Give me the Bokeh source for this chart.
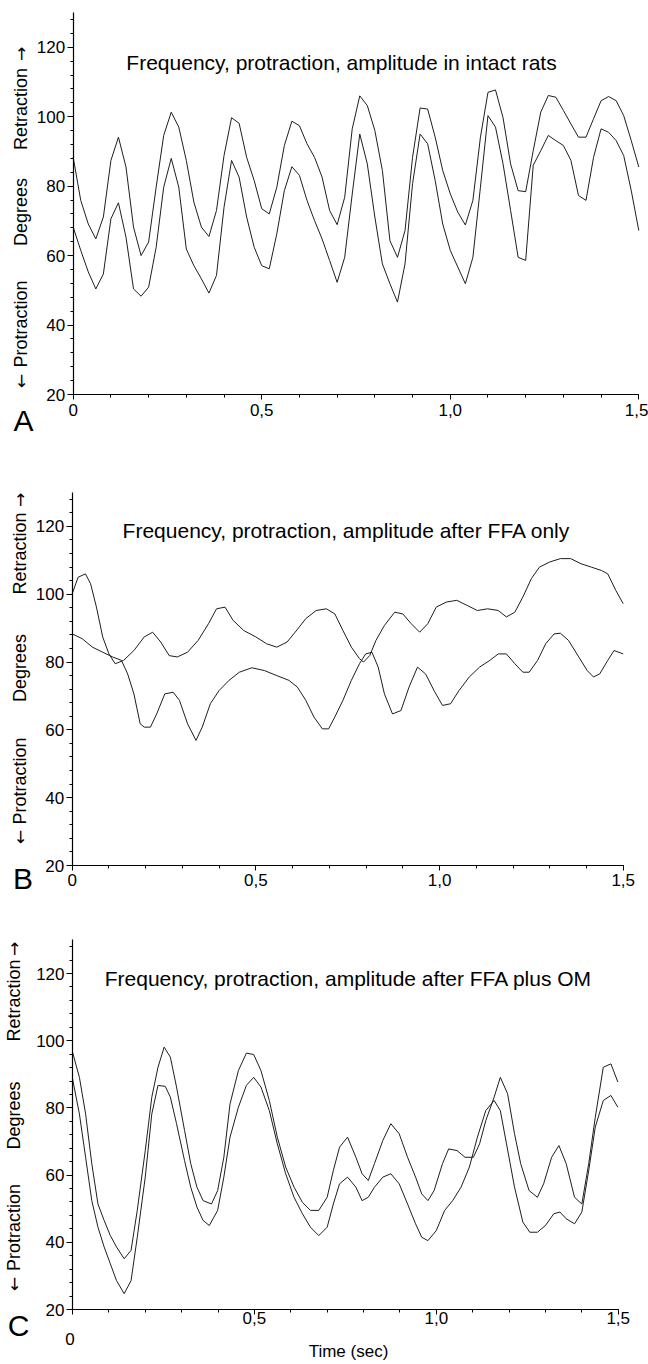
import numpy as np
from bokeh.plotting import figure
from bokeh.models import (FixedTicker, CustomJSTickFormatter, Label, Range1d,
                          LinearAxis)
from bokeh.layouts import column
from bokeh.embed import file_html
from bokeh.resources import INLINE

FONT = "Liberation Sans"
ARROW_FONT = "DejaVu Sans"

# ---------------- data ----------------
tA = [round(0.02 * i, 2) for i in range(76)]
A_upper = [88.3, 75.9, 69.1, 64.8, 71.1, 87.4, 94.1, 85.5, 68.2, 60.0,
           63.9, 79.7, 94.6, 101.3, 97.0, 87.4, 75.4, 68.2, 65.5, 73.0,
           88.8, 99.7, 98.1, 88.3, 81.6, 73.5, 72.0, 79.7, 91.7, 98.7,
           97.4, 92.2, 88.3, 82.6, 73.0, 68.9, 76.8, 96.5, 106.0, 103.2,
           96.0, 84.5, 64.3, 59.5, 67.2, 88.3, 102.5, 102.2, 94.1, 84.5,
           77.8, 72.5, 68.8, 75.9, 94.1, 107.0, 107.7, 99.7, 86.4, 78.7,
           78.4, 90.2, 101.3, 106.1, 105.6, 101.8, 97.9, 94.1, 94.1, 99.4,
           104.6, 105.8, 104.6, 100.3, 93.1, 85.5]
A_lower = [68.2, 61.5, 55.3, 50.4, 54.7, 70.6, 75.2, 65.3, 50.4, 48.3,
           50.9, 62.4, 79.7, 88.0, 79.7, 61.9, 57.1, 53.3, 49.2, 54.3,
           73.9, 87.4, 82.6, 71.1, 62.4, 57.1, 56.2, 66.3, 78.7, 85.6,
           83.1, 75.9, 70.1, 64.8, 58.6, 52.3, 59.5, 77.7, 95.0, 86.4,
           71.1, 57.6, 51.9, 46.6, 57.6, 80.7, 95.0, 92.2, 81.6, 69.1,
           61.5, 56.7, 51.9, 59.5, 79.7, 100.3, 97.0, 86.4, 73.0, 59.5,
           58.6, 86.0, 90.2, 94.6, 93.1, 91.7, 87.4, 77.3, 75.9, 88.3,
           96.5, 95.5, 93.1, 88.8, 78.7, 67.2]

tB1 = [0.000, 0.016, 0.036, 0.050, 0.066, 0.083, 0.100, 0.117, 0.140, 0.168,
       0.196, 0.219, 0.241, 0.264, 0.286, 0.314, 0.343, 0.371, 0.393, 0.416,
       0.438, 0.467, 0.500, 0.529, 0.557, 0.585, 0.607, 0.636, 0.664, 0.692,
       0.715, 0.737, 0.760, 0.782, 0.793, 0.810, 0.827, 0.850, 0.878, 0.900,
       0.923, 0.946, 0.968, 0.991, 1.019, 1.047, 1.075, 1.103, 1.131, 1.160,
       1.182, 1.205, 1.227, 1.250, 1.272, 1.300, 1.329, 1.357, 1.385, 1.413,
       1.441, 1.458, 1.480, 1.500]
B_trace1 = [100.1, 105.0, 106.0, 103.1, 96.2, 87.4, 82.4, 79.5, 80.5, 83.4,
            87.4, 88.8, 85.9, 81.9, 81.5, 82.9, 86.4, 91.3, 95.7, 96.2,
            92.3, 89.3, 87.4, 85.4, 84.4, 85.9, 88.8, 92.8, 95.2, 95.7,
            94.2, 89.3, 84.4, 81.0, 80.0, 81.9, 86.4, 90.8, 94.7, 94.2,
            91.3, 88.8, 91.3, 96.2, 97.7, 98.2, 96.7, 95.2, 95.7, 95.2,
            93.3, 94.7, 99.2, 104.6, 108.0, 109.5, 110.5, 110.5, 109.0, 108.0,
            107.0, 106.0, 101.1, 97.2]
tB2 = [0.000, 0.027, 0.055, 0.083, 0.110, 0.134, 0.151, 0.168, 0.185, 0.196,
       0.213, 0.230, 0.252, 0.275, 0.292, 0.314, 0.337, 0.354, 0.376, 0.400,
       0.427, 0.455, 0.489, 0.523, 0.557, 0.590, 0.613, 0.636, 0.658, 0.681,
       0.698, 0.715, 0.737, 0.760, 0.782, 0.799, 0.816, 0.833, 0.850, 0.872,
       0.895, 0.917, 0.940, 0.962, 0.985, 1.008, 1.030, 1.053, 1.081, 1.109,
       1.137, 1.160, 1.182, 1.205, 1.227, 1.244, 1.267, 1.289, 1.312, 1.329,
       1.351, 1.379, 1.402, 1.419, 1.436, 1.458, 1.475, 1.500]
B_trace2 = [88.3, 86.9, 84.4, 82.9, 81.5, 80.5, 76.5, 70.6, 61.8, 60.8,
            60.8, 64.7, 70.6, 71.1, 68.7, 61.8, 56.9, 60.8, 67.7, 71.6,
            74.6, 77.0, 78.3, 77.5, 76.0, 74.6, 72.6, 68.7, 63.8, 60.3,
            60.3, 63.8, 68.7, 74.6, 79.5, 82.4, 82.9, 78.5, 70.6, 64.7,
            65.7, 72.6, 78.5, 76.5, 71.6, 67.2, 67.7, 71.6, 75.6, 78.5,
            80.5, 82.4, 82.4, 79.5, 77.0, 77.0, 80.5, 85.4, 88.3, 88.5,
            86.4, 81.5, 77.5, 75.6, 76.5, 80.5, 83.4, 82.4]

tC1 = [0.000, 0.019, 0.036, 0.053, 0.070, 0.087, 0.104, 0.121, 0.142, 0.161,
       0.178, 0.200, 0.218, 0.235, 0.252, 0.269, 0.286, 0.308, 0.325, 0.342,
       0.359, 0.382, 0.399, 0.416, 0.433, 0.456, 0.478, 0.498, 0.518, 0.541,
       0.563, 0.586, 0.609, 0.632, 0.654, 0.677, 0.700, 0.717, 0.734, 0.756,
       0.779, 0.796, 0.813, 0.830, 0.853, 0.875, 0.898, 0.921, 0.943, 0.960,
       0.977, 0.994, 1.017, 1.034, 1.057, 1.079, 1.102, 1.119, 1.136, 1.159,
       1.176, 1.196, 1.215, 1.232, 1.255, 1.278, 1.295, 1.317, 1.337, 1.357,
       1.380, 1.400, 1.419, 1.437, 1.459, 1.480, 1.499]
C_upper = [96.6, 89.1, 78.2, 63.4, 51.4, 46.5, 42.0, 38.6, 35.1, 37.6,
           49.5, 67.3, 83.2, 92.1, 98.1, 95.1, 86.2, 73.3, 63.4, 56.4,
           52.4, 51.4, 55.4, 65.3, 81.2, 91.1, 96.3, 95.9, 91.1, 82.2,
           71.3, 62.4, 56.4, 51.9, 49.5, 49.5, 53.4, 61.4, 68.3, 71.3,
           65.3, 60.4, 58.4, 63.4, 70.3, 75.3, 72.3, 65.3, 59.4, 54.4,
           52.4, 55.4, 63.4, 67.8, 67.3, 65.3, 65.3, 69.3, 76.2, 83.2,
           89.1, 84.2, 72.3, 63.4, 55.4, 53.4, 57.4, 65.3, 68.8, 63.4,
           53.4, 51.4, 63.4, 77.2, 92.1, 93.1, 87.7]
tC2 = [0.000, 0.019, 0.036, 0.053, 0.070, 0.087, 0.104, 0.121, 0.142, 0.161,
       0.178, 0.200, 0.218, 0.235, 0.255, 0.269, 0.286, 0.308, 0.325, 0.342,
       0.359, 0.376, 0.399, 0.416, 0.433, 0.456, 0.478, 0.498, 0.518, 0.541,
       0.563, 0.586, 0.609, 0.632, 0.654, 0.677, 0.700, 0.717, 0.734, 0.756,
       0.779, 0.796, 0.813, 0.830, 0.853, 0.875, 0.898, 0.921, 0.943, 0.960,
       0.977, 1.000, 1.023, 1.045, 1.068, 1.091, 1.113, 1.136, 1.159, 1.176,
       1.193, 1.215, 1.238, 1.257, 1.278, 1.300, 1.323, 1.340, 1.357, 1.380,
       1.400, 1.419, 1.437, 1.459, 1.480, 1.499]
C_lower = [88.7, 78.2, 65.3, 52.4, 44.5, 38.6, 33.6, 28.6, 24.7, 28.6,
           41.5, 59.4, 78.2, 86.7, 86.4, 83.2, 75.3, 64.3, 56.4, 50.5,
           46.5, 45.0, 49.5, 59.4, 71.3, 80.2, 86.7, 89.1, 86.2, 79.2,
           69.3, 60.4, 53.4, 48.5, 44.5, 42.0, 44.5, 51.4, 57.4, 59.4,
           56.4, 52.4, 53.4, 56.4, 59.4, 60.4, 57.4, 51.4, 45.5, 41.5,
           40.5, 43.5, 49.5, 52.4, 56.4, 62.4, 71.3, 79.2, 82.2, 79.2,
           69.3, 56.4, 46.0, 43.0, 43.0, 45.0, 48.5, 49.0, 47.0, 45.5,
           49.0, 61.4, 74.3, 82.2, 83.7, 80.2]

x_major = [0, 0.5, 1.0, 1.5]
x_minor = [round(0.1 * i, 1) for i in range(16)]
y_major = [20, 40, 60, 80, 100, 120]
y_minor = list(range(20, 131, 4))

titles = ["Frequency, protraction, amplitude in intact rats",
          "Frequency, protraction, amplitude after FFA only",
          "Frequency, protraction, amplitude after FFA plus OM"]
letters = ["A", "B", "C"]
ylab_words = ["Retraction", "Degrees", "Protraction"]
arrows = ["\u2192", "\u2190"]

# ---------------- layout geometry (page pixels) ----------------
W = 648
panels = [
    dict(top=0,   h=460, L=72.7, R=638.3, T=12.0,  B=394.0, std=4,
         title=(341, 61.7), letter=(23, 420), ylx=20.7,
         words=(108.5, 211.5, 323.5), arr=(53.5, 380.5)),
    dict(top=460, h=460, L=71.7, R=622.7, T=492.0, B=865.0, std=3,
         title=(346, 530), letter=(22.5, 878), ylx=19.6,
         words=(553, 667.5, 780.5), arr=(499.5, 836.5)),
    dict(top=920, h=444, L=72.0, R=617.7, T=939.4, B=1309.0, std=-3,
         title=(348, 978), letter=(18, 1324.5), ylx=13.4,
         words=(1000, 1115, 1227), arr=(948.5, 1283.5)),
]
series = [[(tA, A_upper), (tA, A_lower)],
          [(tB1, B_trace1), (tB2, B_trace2)],
          [(tC1, C_upper), (tC2, C_lower)]]

figs = []
for i, g in enumerate(panels):
    L, R, T, B, top, h = g["L"], g["R"], g["T"], g["B"], g["top"], g["h"]
    sx = 1.5 / (R - L)
    sy = 110.0 / (B - T)

    def px(x, L=L, sx=sx):
        return (x - L) * sx

    def py(y, B=B, sy=sy):
        return 20 + (B - y) * sy

    x_rng = Range1d(px(0), px(W))
    y_rng = Range1d(py(top + h), py(top))
    p = figure(width=W, height=h, x_range=x_rng, y_range=y_rng,
               x_axis_type=None, y_axis_type=None, title=None,
               output_backend="svg", toolbar_location=None,
               min_border=0)
    p.outline_line_color = None
    p.background_fill_color = "white"
    p.border_fill_color = "white"

    for (tt, vv) in series[i]:
        p.line(tt, vv, line_color="#1e1e1e", line_width=1.0)

    zero_txt = "''" if i == 2 else "'0'"
    ax = LinearAxis(fixed_location=20, bounds=(0, 1.5))
    ax.ticker = FixedTicker(ticks=x_major, minor_ticks=x_minor)
    ax.formatter = CustomJSTickFormatter(
        code="if (Math.abs(tick) < 1e-9) return %s; return tick.toFixed(1).replace('.', ',');" % zero_txt)
    ax.major_tick_out = 5
    ax.major_tick_in = 0
    ax.minor_tick_out = 3
    ax.minor_tick_in = 0
    ax.major_label_standoff = g["std"]
    ax.major_label_text_font = FONT
    ax.major_label_text_font_size = "17px"
    ax.major_label_text_color = "black"
    ax.axis_line_color = "black"
    ax.axis_line_width = 1.2
    p.add_layout(ax, "below")

    ay = LinearAxis(fixed_location=0, bounds=(20, 130))
    ay.ticker = FixedTicker(ticks=y_major, minor_ticks=y_minor)
    ay.major_tick_out = 6
    ay.major_tick_in = 0
    ay.minor_tick_out = 3
    ay.minor_tick_in = 0
    ay.major_label_standoff = 2
    ay.major_label_text_font = FONT
    ay.major_label_text_font_size = "17px"
    ay.major_label_text_color = "black"
    ay.axis_line_color = "black"
    ay.axis_line_width = 1.2
    p.add_layout(ay, "left")

    tx, ty = g["title"]
    p.add_layout(Label(x=px(tx), y=py(ty), text=titles[i], text_font=FONT,
                       text_font_size="21px", text_align="center",
                       text_baseline="alphabetic", text_color="black"))
    lx, ly = g["letter"]
    p.add_layout(Label(x=px(lx), y=py(ly), text=letters[i], text_font=FONT,
                       text_font_size="30px", text_align="center",
                       text_baseline="alphabetic", text_color="black"))
    for txt, yy in zip(ylab_words, g["words"]):
        p.add_layout(Label(x=px(g["ylx"]), y=py(yy), text=txt, text_font=FONT,
                           text_font_size="18px", text_align="center",
                           text_baseline="middle", angle=np.pi / 2,
                           text_color="black"))
    for txt, yy in zip(arrows, g["arr"]):
        p.add_layout(Label(x=px(g["ylx"]), y=py(yy), text=txt,
                           text_font=ARROW_FONT, text_font_size="17px",
                           text_align="center", text_baseline="middle",
                           angle=np.pi / 2, text_color="black"))
    if i == 2:
        p.add_layout(Label(x=px(69.5), y=py(1338), text="0", text_font=FONT,
                           text_font_size="17px", text_align="center",
                           text_baseline="alphabetic", text_color="black"))
        p.add_layout(Label(x=px(348), y=py(1351), text="Time (sec)",
                           text_font=FONT, text_font_size="17px",
                           text_align="center", text_baseline="alphabetic",
                           text_color="black"))
    figs.append(p)

layout = column(*figs, spacing=0)
open("out.html", "w").write(file_html(layout, INLINE))
